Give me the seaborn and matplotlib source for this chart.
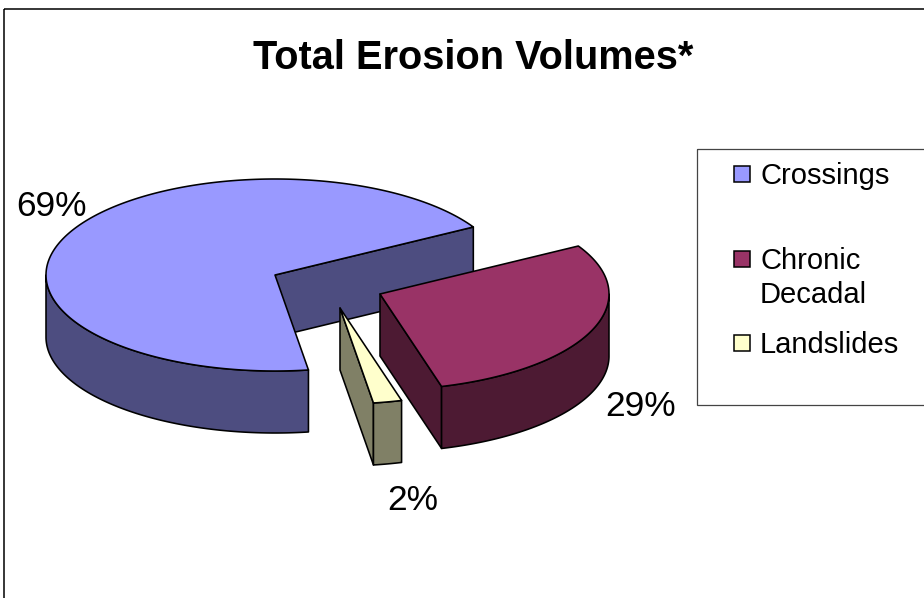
import numpy as np
import matplotlib
matplotlib.use("Agg")
import matplotlib.pyplot as plt
from matplotlib.patches import Polygon, Rectangle
import seaborn as sns

# Share of total erosion volume, in percent
categories = ["Crossings", "Chronic\nDecadal", "Landslides"]
shares = [69, 29, 2]

sns.set_theme(style="white")
plt.rcParams["font.family"] = ["Liberation Sans", "DejaVu Sans"]

top_colors = sns.color_palette(["#9999FF", "#993366", "#FFFFCC"])
side_colors = sns.color_palette(["#4D4D80", "#4D1A33", "#808066"])

RX, RY, DEPTH = 229, 96, 62
START_ANGLE = 30.0
centers = [(275, 275), (380, 294), (340, 308)]
draw_order = [0, 2, 1]
label_xy = [(52, 207), (641, 406), (413, 500)]
legend_y = [174, 259, 343]
legend_text_y = [176, 278, 345]

fig = plt.figure(figsize=(9.24, 5.98), dpi=100, facecolor="white")
ax = fig.add_axes([0, 0, 1, 1])
ax.set_xlim(0, 924)
ax.set_ylim(598, 0)
ax.axis("off")
sns.despine(ax=ax, left=True, bottom=True)


def rim(center, degrees, drop=0.0):
    """Points on the elliptical rim of a disc, optionally lowered by `drop`."""
    t = np.radians(degrees)
    return np.column_stack([center[0] + RX * np.cos(t),
                            center[1] - RY * np.sin(t) + drop])


def draw_slice(center, a_start, a_end, top, side, z):
    """Draw one extruded slice that runs counter-clockwise from a_start to a_end."""
    edge = dict(edgecolor="black", linewidth=1.15, joinstyle="round")
    cx, cy = center

    # Radial cut faces are only seen when their outward normal points at the viewer
    for angle, normal in ((a_start, a_start - 90), (a_end, a_end + 90)):
        if np.sin(np.radians(normal)) < 0:
            p = rim(center, [angle])[0]
            ax.add_patch(Polygon([(cx, cy), p, (p[0], p[1] + DEPTH), (cx, cy + DEPTH)],
                                 facecolor=side, zorder=z, **edge))

    # Outer wall: the parts of the arc on the near half of the ellipse
    for near_lo, near_hi in ((-180, 0), (180, 360)):
        lo, hi = max(a_start, near_lo), min(a_end, near_hi)
        if hi > lo:
            arc = np.linspace(lo, hi, 200)
            wall = np.vstack([rim(center, arc), rim(center, arc[::-1], DEPTH)])
            ax.add_patch(Polygon(wall, facecolor=side, zorder=z + 0.1, **edge))

    # Top surface
    arc = np.linspace(a_start, a_end, 400)
    ax.add_patch(Polygon(np.vstack([[(cx, cy)], rim(center, arc)]),
                         facecolor=top, zorder=z + 0.2, **edge))


# Slices run clockwise from the start angle: chronic, landslides, then crossings
sweeps = np.array(shares) * 3.6
chronic_end = START_ANGLE - sweeps[1]
landslide_end = chronic_end - sweeps[2]
angle_ranges = [
    (START_ANGLE, START_ANGLE + sweeps[0]),
    (chronic_end, START_ANGLE),
    (landslide_end, chronic_end),
]
for z, i in enumerate(draw_order):
    a0, a1 = angle_ranges[i]
    draw_slice(centers[i], a0, a1, top_colors[i], side_colors[i], z + 2)

# Percentage labels
for value, (x, y) in zip(shares, label_xy):
    ax.text(x, y, f"{value}%", fontsize=25.5, color="black", ha="center", va="center", zorder=10)

ax.text(473, 58, "Total Erosion Volumes*", fontsize=28.6, fontweight="bold",
        color="black", ha="center", va="center")

# Chart frame and legend box
ax.add_patch(Rectangle((3.5, 9), 1000, 1000, fill=False, edgecolor="black", linewidth=1.1, zorder=1))
ax.add_patch(Rectangle((697, 148.5), 400, 256.5, fill=False, edgecolor="#444444", linewidth=0.9, zorder=1))

for name, color, ym, yt in zip(categories, top_colors, legend_y, legend_text_y):
    ax.add_patch(Rectangle((734, ym - 8), 16, 16, facecolor=color, edgecolor="black",
                           linewidth=1.1, zorder=5))
    ax.text(760, yt, name, fontsize=21, color="black", ha="left", va="center",
            linespacing=1.3, zorder=5)

fig.savefig("out.png", dpi=100, facecolor="white")
